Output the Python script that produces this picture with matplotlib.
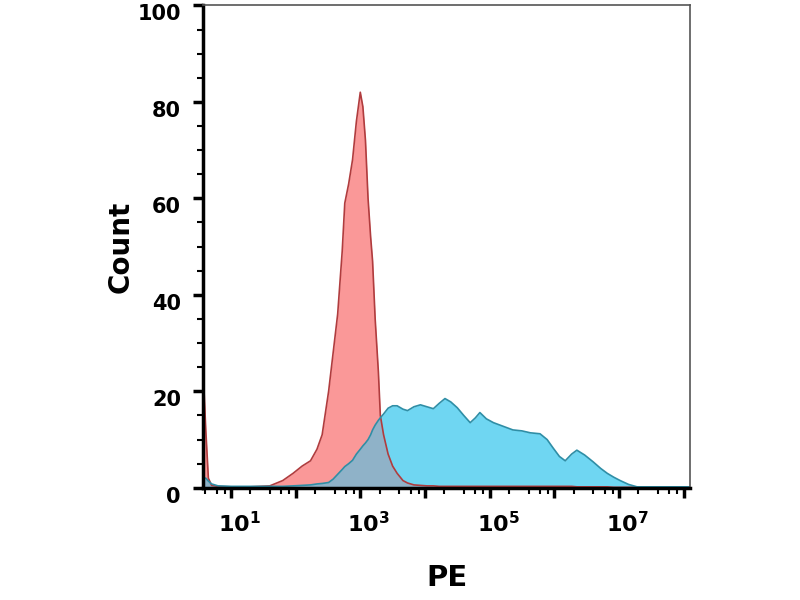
import numpy as np
import matplotlib
matplotlib.use("Agg")
import matplotlib.pyplot as plt
import matplotlib.ticker as mticker
import matplotlib.transforms as mtransforms

# histogram channels (log10 of PE intensity) and counts
log_pe = [0.58, 0.61, 0.65, 0.70, 0.80, 1.00, 1.30, 1.60, 1.80, 1.96,
          2.10, 2.23, 2.33, 2.41, 2.51, 2.58, 2.65, 2.72, 2.76, 2.82,
          2.88, 2.94, 3.00, 3.04, 3.08, 3.12, 3.16, 3.19, 3.23, 3.28,
          3.31, 3.36, 3.43, 3.50, 3.57, 3.66, 3.73, 3.83, 3.93, 4.03,
          4.13, 4.22, 4.31, 4.40, 4.50, 4.60, 4.70, 4.78, 4.85, 4.95,
          5.06, 5.20, 5.36, 5.50, 5.63, 5.78, 5.89, 5.98, 6.08, 6.17,
          6.27, 6.35, 6.47, 6.60, 6.72, 6.82, 6.92, 7.02, 7.15, 7.28,
          7.60, 8.11]

control = [21, 12, 2.0, 0.5, 0.3, 0.2, 0.2, 0.4, 1.5, 3.0,
           4.5, 5.6, 8.0, 11, 20, 28, 36, 49, 59, 63,
           68, 76, 82, 79, 72, 60, 52, 47, 35, 24,
           15, 11, 7, 4.5, 3, 1.5, 1.0, 0.6, 0.5, 0.4,
           0.4, 0.3, 0.3, 0.3, 0.3, 0.3, 0.3, 0.3, 0.3, 0.3,
           0.3, 0.3, 0.3, 0.3, 0.3, 0.3, 0.3, 0.3, 0.3, 0.3,
           0.3, 0.2, 0.2, 0.2, 0.2, 0.2, 0.1, 0.1, 0.1, 0.1,
           0.1, 0.1]

stained = [2.0, 2.0, 1.4, 0.8, 0.4, 0.3, 0.3, 0.3, 0.3, 0.4,
           0.5, 0.6, 0.8, 0.9, 1.1, 1.8, 2.8, 3.8, 4.4, 5.0,
           5.7, 7.0, 8.0, 8.7, 9.3, 10, 11, 12, 13, 14,
           14.5, 15.3, 16.5, 17, 17, 16.3, 16, 16.8, 17.2, 16.8,
           16.4, 17.5, 18.5, 17.8, 16.6, 15, 13.5, 14.5, 15.6, 14.3,
           13.5, 12.8, 12.0, 11.8, 11.4, 11.2, 10, 8.3, 6.5, 5.6,
           7.0, 7.8, 6.8, 5.4, 4.0, 3.0, 2.2, 1.5, 0.7, 0.2,
           0.2, 0.2]

x_labels = {1: r"$\mathbf{10^{1}}$", 3: r"$\mathbf{10^{3}}$",
            5: r"$\mathbf{10^{5}}$", 7: r"$\mathbf{10^{7}}$"}

pe = 10 ** np.array(log_pe)
red = np.array(control)
blue = np.array(stained)

plt.rcParams['font.family'] = ['DejaVu Sans']
fig = plt.figure(figsize=(8, 6), dpi=100)
ax = fig.add_axes([0.254, 0.187, 0.6085, 0.804])

ax.fill_between(pe, 0, red, color='#fa9898', lw=0)
ax.fill_between(pe, 0, blue, color='#6fd6f2', lw=0)
ax.fill_between(pe, 0, np.minimum(red, blue), color='#8fb2c8', lw=0)
ax.plot(pe, red, color='#b03c3e', lw=1.2)
ax.plot(pe, blue, color='#2f8ea6', lw=1.2)

ax.set_xscale('log')
ax.set_xlim(10 ** 0.57, 10 ** 8.1)
ax.set_ylim(0, 100)

ax.xaxis.set_major_locator(mticker.FixedLocator([10 ** k for k in range(1, 9)]))
ax.xaxis.set_major_formatter(mticker.FixedFormatter(
    [x_labels.get(k, '') for k in range(1, 9)]))
ax.xaxis.set_minor_locator(mticker.LogLocator(base=10, subs=(2, 4, 6, 8), numticks=20))
ax.xaxis.set_minor_formatter(mticker.NullFormatter())
ax.yaxis.set_major_locator(mticker.MultipleLocator(20))
ax.yaxis.set_minor_locator(mticker.MultipleLocator(5))

ax.tick_params(which='major', direction='out', length=7, width=2.5, color='black')
ax.tick_params(which='minor', direction='out', length=4, width=1.5, color='black')
ax.tick_params(axis='y', labelsize=15, pad=9)
ax.tick_params(axis='x', labelsize=16, pad=10)
ylab_shift = mtransforms.ScaledTranslation(0, -5 / 72, fig.dpi_scale_trans)
for lab in ax.get_yticklabels():
    lab.set_fontweight('bold')
    lab.set_transform(lab.get_transform() + ylab_shift)
# base "10" sits on the tick, exponent hangs to the right
shift = mtransforms.ScaledTranslation(6 / 72, 0, fig.dpi_scale_trans)
for lab in ax.get_xticklabels():
    lab.set_transform(lab.get_transform() + shift)

for side in ['left', 'bottom']:
    ax.spines[side].set_linewidth(2.5)
    ax.spines[side].set_color('black')
for side in ['top', 'right']:
    ax.spines[side].set_linewidth(1.2)
    ax.spines[side].set_color('#555555')

ax.set_xlabel('PE', fontsize=21, fontweight='bold', labelpad=20)
ax.set_ylabel('Count', fontsize=20, fontweight='bold', labelpad=2)

fig.savefig('out.png', dpi=100)
